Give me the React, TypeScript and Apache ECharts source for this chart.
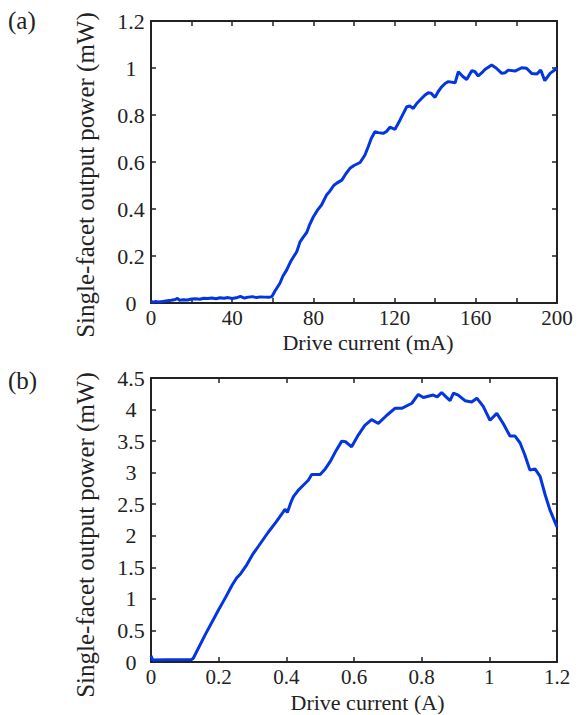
import React, { useEffect, useRef } from "react";
import * as echarts from "echarts";

// Panel (a): drive current (mA) vs single-facet output power (mW)
const currentA: number[] = [
  0, 1, 2, 4, 6, 8, 10, 12, 13, 14, 16, 18, 20, 22, 24, 26, 28, 30, 32, 34, 36, 38, 40, 42, 44, 46, 48, 50,
  52, 54, 56, 58, 59.5, 61, 63.5, 65, 66.8, 69, 71.8, 73.4, 75, 76.7, 78, 80, 82, 84, 86.5, 88, 90, 91.5,
  94, 96, 98, 100, 103, 105.4, 107, 108.5, 110.3, 112, 114.4, 116, 117.7, 120.2, 122.7, 124.5, 126, 127.5,
  129.2, 131, 133.4, 135, 136.6, 138, 139.9, 141.5, 143.2, 145, 146.5, 149.8, 151.4, 153.5, 155.5, 158,
  159.5, 161.2, 163, 164.5, 167.8, 170, 172.8, 174.5, 176, 179.3, 182.6, 185, 187.5, 190, 192, 194, 196.6, 200,
];
const powerA: number[] = [
  0.008, 0.003, 0.006, 0.004, 0.007, 0.01, 0.012, 0.015, 0.02, 0.012, 0.014, 0.013, 0.017, 0.018, 0.016,
  0.02, 0.019, 0.021, 0.018, 0.022, 0.02, 0.023, 0.019, 0.022, 0.028, 0.021, 0.025, 0.027, 0.023, 0.026,
  0.025, 0.024, 0.027, 0.05, 0.084, 0.115, 0.14, 0.18, 0.218, 0.26, 0.28, 0.3, 0.33, 0.367, 0.395, 0.417,
  0.46, 0.475, 0.5, 0.51, 0.523, 0.55, 0.573, 0.585, 0.598, 0.63, 0.665, 0.7, 0.729, 0.725, 0.722, 0.73,
  0.748, 0.739, 0.779, 0.81, 0.835, 0.838, 0.828, 0.85, 0.871, 0.885, 0.895, 0.893, 0.875, 0.9, 0.92,
  0.935, 0.942, 0.937, 0.984, 0.965, 0.951, 0.988, 0.985, 0.966, 0.98, 0.994, 1.013, 1.0, 0.977, 0.98,
  0.991, 0.987, 1.001, 0.999, 0.977, 0.974, 0.991, 0.946, 0.977, 0.999,
];

// Panel (b): drive current (A) vs single-facet output power (mW)
const currentB: number[] = [
  0, 0.005, 0.05, 0.12, 0.125, 0.16, 0.199, 0.22, 0.24, 0.253, 0.265, 0.283, 0.3, 0.317, 0.347, 0.37,
  0.391, 0.396, 0.403, 0.415, 0.421, 0.435, 0.45, 0.465, 0.475, 0.5, 0.515, 0.529, 0.545, 0.564, 0.575,
  0.593, 0.613, 0.632, 0.652, 0.672, 0.697, 0.721, 0.741, 0.771, 0.79, 0.805, 0.834, 0.846, 0.859, 0.872,
  0.884, 0.894, 0.908, 0.928, 0.948, 0.963, 0.982, 1.002, 1.022, 1.041, 1.061, 1.076, 1.091, 1.105, 1.12,
  1.135, 1.15, 1.165, 1.179, 1.2,
];
const powerB: number[] = [
  0.1, 0.03, 0.035, 0.04, 0.06, 0.43, 0.82, 1.02, 1.22, 1.33, 1.4, 1.54, 1.7, 1.83, 2.06, 2.22, 2.38,
  2.42, 2.37, 2.55, 2.62, 2.72, 2.8, 2.88, 2.97, 2.97, 3.06, 3.17, 3.33, 3.5, 3.49, 3.41, 3.6, 3.75, 3.84,
  3.78, 3.91, 4.02, 4.02, 4.1, 4.24, 4.19, 4.23, 4.2, 4.27, 4.2, 4.14, 4.26, 4.23, 4.14, 4.12, 4.18, 4.05,
  3.83, 3.94, 3.78, 3.58, 3.58, 3.47, 3.28, 3.04, 3.06, 2.94, 2.65, 2.41, 2.14,
];

const xTitleA = "Drive current (mA)";
const xTitleB = "Drive current (A)";
const yTitle = "Single-facet output power (mW)";

const FONT = "Liberation Serif";
const AXIS_COLOR = "#222";
const LINE_COLOR = "#0336e0";

function axisCommon(showLabel: boolean) {
  return {
    axisLine: { show: true, onZero: false, lineStyle: { color: AXIS_COLOR, width: 2 } },
    axisTick: { show: true, inside: true, length: 5, lineStyle: { color: AXIS_COLOR, width: 1.5 } },
    splitLine: { show: false },
    axisLabel: { show: showLabel, color: "#222", fontFamily: FONT, fontSize: 21, lineHeight: 16 },
  };
}

function txt(text: string, size: number) {
  return { text, fontFamily: FONT, fontSize: size, lineHeight: 18, fill: "#222" };
}

export default function App() {
  const ref = useRef<HTMLDivElement>(null);
  useEffect(() => {
    if (!ref.current) return;
    const chart = echarts.init(ref.current, undefined, { renderer: "svg" });
    const dataA = currentA.map((x, i) => [x, powerA[i]]);
    const dataB = currentB.map((x, i) => [x, powerB[i]]);
    const fmt = (v: number) => String(Math.round(v * 10) / 10);
    chart.setOption({
      animation: false,
      backgroundColor: "#fff",
      textStyle: { fontFamily: FONT },
      grid: [
        { left: 151, top: 21, width: 406, height: 282 },
        { left: 151, top: 378, width: 406, height: 284 },
      ],
      xAxis: [
        {
          type: "value", gridIndex: 0, position: "bottom", min: 0, max: 200, interval: 20,
          ...axisCommon(true),
          axisLabel: {
            ...axisCommon(true).axisLabel, margin: 7,
            formatter: (v: number) => (Math.round(v) % 40 === 0 ? String(v) : ""),
          },
        },
        { type: "value", gridIndex: 0, position: "top", min: 0, max: 200, interval: 20, ...axisCommon(false) },
        {
          type: "value", gridIndex: 1, position: "bottom", min: 0, max: 1.2, interval: 0.2,
          ...axisCommon(true),
          axisLabel: { ...axisCommon(true).axisLabel, margin: 7, formatter: fmt },
        },
        { type: "value", gridIndex: 1, position: "top", min: 0, max: 1.2, interval: 0.2, ...axisCommon(false) },
      ],
      yAxis: [
        {
          type: "value", gridIndex: 0, position: "left", min: 0, max: 1.2, interval: 0.2,
          ...axisCommon(true),
          axisLabel: { ...axisCommon(true).axisLabel, fontSize: 22, margin: 20, align: "center", formatter: fmt },
        },
        { type: "value", gridIndex: 0, position: "right", min: 0, max: 1.2, interval: 0.2, ...axisCommon(false) },
        {
          type: "value", gridIndex: 1, position: "left", min: 0, max: 4.5, interval: 0.5,
          ...axisCommon(true),
          axisLabel: { ...axisCommon(true).axisLabel, fontSize: 22, margin: 20, align: "center", formatter: fmt },
        },
        { type: "value", gridIndex: 1, position: "right", min: 0, max: 4.5, interval: 0.5, ...axisCommon(false) },
      ],
      series: [
        {
          type: "line", xAxisIndex: 0, yAxisIndex: 0, data: dataA, showSymbol: false,
          lineStyle: { color: LINE_COLOR, width: 3 }, z: 1,
        },
        {
          type: "line", xAxisIndex: 2, yAxisIndex: 2, data: dataB, showSymbol: false,
          lineStyle: { color: LINE_COLOR, width: 3 }, z: 1,
        },
      ],
      graphic: [
        { type: "text", x: 8, y: 20, style: { ...txt("(a)", 25), verticalAlign: "middle" } },
        { type: "text", x: 8, y: 380, style: { ...txt("(b)", 25), verticalAlign: "middle" } },
        {
          type: "text", x: 368, y: 342,
          style: { ...txt(xTitleA, 22), align: "center", verticalAlign: "middle" },
        },
        {
          type: "text", x: 367.5, y: 702,
          style: { ...txt(xTitleB, 22), align: "center", verticalAlign: "middle" },
        },
        {
          type: "text", x: 85, y: 175, rotation: Math.PI / 2,
          style: { ...txt(yTitle, 25), align: "center", verticalAlign: "middle" },
        },
        {
          type: "text", x: 85, y: 535, rotation: Math.PI / 2,
          style: { ...txt(yTitle, 25), align: "center", verticalAlign: "middle" },
        },
      ],
    });
    return () => chart.dispose();
  }, []);
  return (
    <div
      ref={ref}
      style={{ position: "fixed", left: 0, top: 0, width: 579, height: 715, background: "#fff" }}
    />
  );
}
